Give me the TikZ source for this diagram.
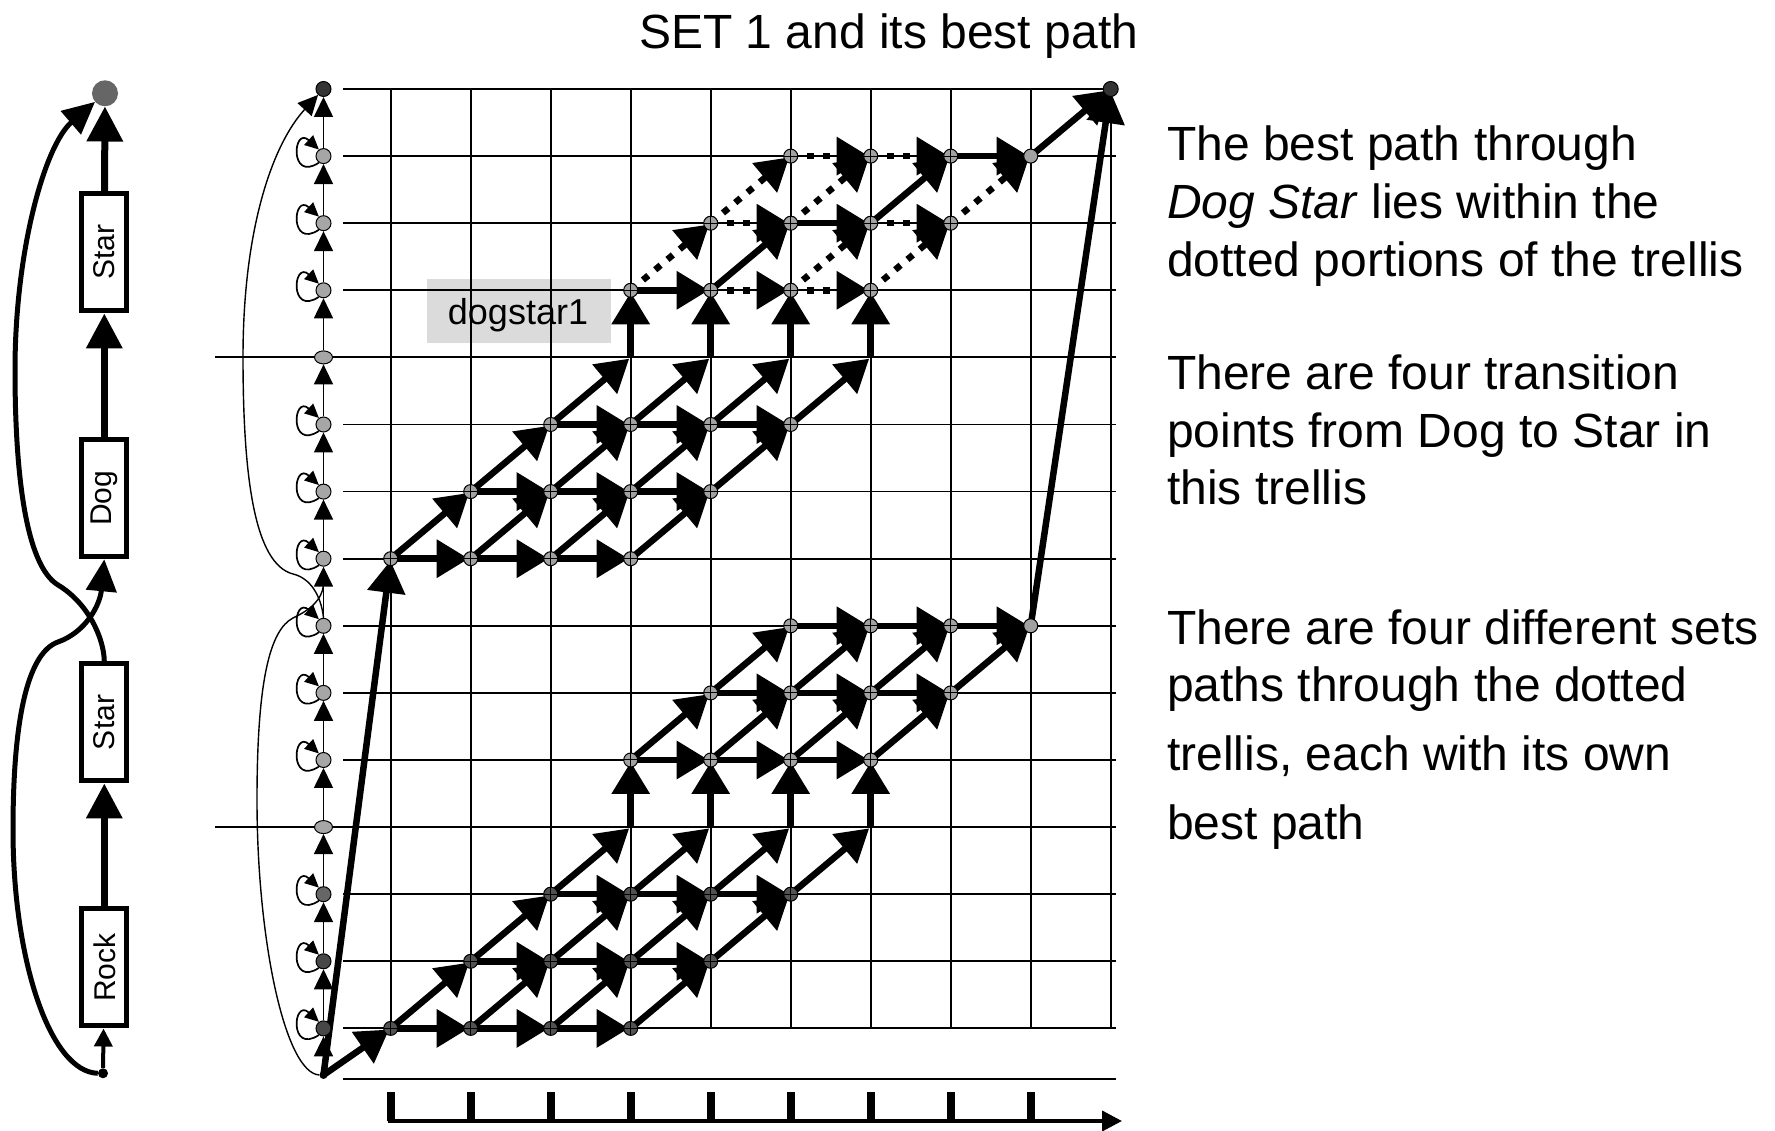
\documentclass[tikz,border=0pt]{standalone}
\usepackage{fontspec}
\usepackage{graphicx}
\setmainfont{Liberation Sans}
\usetikzlibrary{arrows.meta,shapes.geometric,calc}
\pgfdeclarelayer{bg}
\pgfsetlayers{bg,main}
\begin{document}
\begin{tikzpicture}[x=1pt,y=1pt,
  gridln/.style={line width=1.8pt},
  thk/.style={line width=6.5pt,-{Triangle[length=32pt,width=37pt]},shorten >=2pt},
  dotarr/.style={thk,dash pattern=on 7pt off 9pt},
  tnode/.style={circle,draw=black,line width=1pt,inner sep=0pt,minimum size=14pt,fill=black!37,
    path picture={\draw[line width=1pt] (path picture bounding box.north) -- (path picture bounding box.south)
      (path picture bounding box.west) -- (path picture bounding box.east);}},
  tdark/.style={tnode,fill=black!68},
  tplain/.style={circle,draw=black,line width=1pt,inner sep=0pt,minimum size=14pt,fill=black!37},
  cnode/.style={circle,draw=black,line width=1pt,inner sep=0pt,minimum size=15pt,fill=black!35},
  sepnode/.style={ellipse,draw=black,line width=1pt,inner sep=0pt,minimum width=18pt,minimum height=13pt,fill=black!35},
  colarr/.style={line width=1.6pt,-{Triangle[length=20pt,width=19pt]}},
  lp/.style={line width=1.7pt,-{Triangle[length=14pt,width=13pt]}},
  tcurve/.style={line width=1.4pt},
  mbox/.style={draw,line width=5pt,minimum width=45pt,minimum height=117pt,inner sep=0pt,fill=white,
    font=\fontsize{30}{36}\selectfont},
  marr/.style={line width=7pt,-{Triangle[length=35pt,width=35pt]}},
  mcurve/.style={line width=5pt,-{Triangle[length=32pt,width=30pt]}},
  txt/.style={anchor=base west,inner sep=0pt,font=\fontsize{48}{57}\selectfont},
]
\useasboundingbox (0,0) rectangle (1775,1130);

% ---------- grid coordinates ----------
\foreach \c in {0,...,9}{\foreach \k in {0,...,14}{
  \coordinate (g-\c-\k) at ({390.7+80*\c},{1041-67.1*\k});}}
\foreach \c in {3,...,6}{\coordinate (n-\c-11) at (g-\c-11); \coordinate (n-\c-4) at (g-\c-4);}

% ---------- trellis nodes ----------
\foreach \k/\a/\sy in {14/0/tdark,13/1/tdark,12/2/tdark,10/3/tnode,9/4/tnode,8/5/tnode,
                       7/0/tnode,6/1/tnode,5/2/tnode,3/3/tnode,2/4/tnode,1/5/tnode}{
  \foreach \i in {0,...,3}{
    \pgfmathtruncatemacro{\c}{\a+\i}
    \ifnum\c=8 \def\sty{tplain}\else\edef\sty{\sy}\fi
    \node[\sty] (n-\c-\k) at (g-\c-\k) {};
  }}
\node[circle,draw=black,line width=1pt,inner sep=0pt,minimum size=15pt,fill=black!80] (E) at (g-9-0) {};

% ---------- left column nodes ----------
\node[circle,fill=black,inner sep=0pt,minimum size=8pt] (L-s) at (323.5,55) {};
\node[circle,draw=black,line width=1pt,inner sep=0pt,minimum size=15pt,fill=black!80] (L-0) at (323.5,1041) {};
\foreach \k in {1,2,3,5,6,7,8,9,10}{\node[cnode] (L-\k) at (323.5,{1041-67.1*\k}) {};}
\foreach \k in {4,11}{\node[sepnode] (L-\k) at (323.5,{1041-67.1*\k}) {};}
\node[cnode,fill=black!60] (L-12) at (323.5,{1041-67.1*12}) {};
\node[cnode,fill=black!72] (L-13) at (323.5,{1041-67.1*13}) {};
\node[cnode,fill=black!72] (L-14) at (323.5,{1041-67.1*14}) {};

% ---------- left model ----------
\node[circle,fill=black!60,inner sep=0pt,minimum size=26pt] (EndL) at (105,1036.7) {};
\node[mbox] (StarT) at (104.3,877.5) {\rotatebox{90}{Star}};
\node[mbox] (DogB) at (104.3,631.7) {\rotatebox{90}{Dog}};
\node[mbox] (StarL) at (104.3,407.5) {\rotatebox{90}{Star}};
\node[mbox] (RockB) at (104.3,162.5) {\rotatebox{90}{Rock}};
\node[circle,fill=black,inner sep=0pt,minimum size=10pt] (StartL) at (103,56.7) {};

% ---------- texts ----------
\node[anchor=base,inner sep=0pt,font=\fontsize{48}{57}\selectfont] (title) at (888.6,1081.3) {SET 1 and its best path};
\node[txt] (t1) at (1167,969.3) {The best path through};
\node[txt] (t2) at (1167,911.5) {\textit{Dog Star} lies within the};
\node[txt] (t3) at (1167,853.8) {dotted portions of the trellis};
\node[txt] (t4) at (1167,740.6) {There are four transition};
\node[txt] (t5) at (1167,682.9) {points from Dog to Star in};
\node[txt] (t6) at (1167,625.1) {this trellis};
\node[txt] (t7) at (1167,485.9) {There are four different sets};
\node[txt] (t8) at (1167,428.2) {paths through the dotted};
\node[txt] (t9) at (1167,359.1) {trellis, each with its own};
\node[txt] (t10) at (1167,290) {best path};

\begin{pgfonlayer}{bg}
\fill[white] (0,0) rectangle (1775,1130);
% label box under the grid
\node[fill=black!14,minimum width=184pt,minimum height=64pt,inner sep=0pt] (dsbox) at (519,819) {};
\node[anchor=base,inner sep=0pt,font=\fontsize{36}{43}\selectfont] (dslabel) at (518,805) {dogstar1};

% grid
\foreach \k in {0,...,14}{\draw[gridln] (343,{1041-67.1*\k}) -- (1116,{1041-67.1*\k});}
\foreach \k in {4,11}{\draw[gridln] (215,{1041-67.1*\k}) -- (343,{1041-67.1*\k});}
\draw[gridln] (343,51) -- (1116,51);
\foreach \c in {0,...,9}{\draw[gridln] (g-\c-0) -- (g-\c-14);}

% time axis
\draw[line width=4pt,-{Triangle[length=20pt,width=20pt]}] (388,9) -- (1122,9);
\foreach \c in {0,...,8}{\draw[line width=8pt] ({390.7+80*\c},9) -- ({390.7+80*\c},38);}

% left column arrows
\draw[colarr] (L-s) -- (L-14);
\foreach \k in {0,...,13}{\pgfmathtruncatemacro{\m}{\k+1}\draw[colarr] (L-\m) -- (L-\k);}
\foreach \k in {1,2,3,5,6,7,8,9,10,12,13,14}{
  \draw[lp] (L-\k.235) .. controls +(-30,-20) and +(-26,24) .. (L-\k.125);}
\coordinate (L7in) at (323.5,545);
\draw[tcurve] (L-s.west) .. controls (285,57) and (257,190) .. (257,330)
   .. controls (257,450) and (270,500) .. (293,512) .. controls (310,520) and (322,530) .. (L7in);
\draw[tcurve,-{Triangle[length=20pt,width=19pt]}] (L-8.north) .. controls (321,535) and (310,552) .. (293,556)
   .. controls (255,566) and (243,650) .. (243,773) .. controls (243,900) and (272,985) .. (L-0);

% trellis: horizontal solid
\foreach \k/\a in {14/0,13/1,12/2,10/3,9/4,8/5,7/0,6/1,5/2}{
  \foreach \i in {0,1,2}{
    \pgfmathtruncatemacro{\c}{\a+\i}\pgfmathtruncatemacro{\d}{\a+\i+1}
    \draw[thk] (n-\c-\k.center) -- (n-\d-\k.center);}}
% diagonals solid
\foreach \k/\a in {14/0,13/1,12/2,10/3,9/4,7/0,6/1,5/2}{
  \foreach \i in {0,...,3}{
    \pgfmathtruncatemacro{\c}{\a+\i}\pgfmathtruncatemacro{\d}{\a+\i+1}\pgfmathtruncatemacro{\m}{\k-1}
    \draw[thk] (n-\c-\k.center) -- (n-\d-\m.center);}}
% verticals (word transitions)
\foreach \c in {3,...,6}{
  \draw[thk] (n-\c-11.center) -- (n-\c-10.center);
  \draw[thk] (n-\c-4.center) -- (n-\c-3.center);}
% dotted portion
\draw[dotarr] (n-4-3.center) -- (n-5-3.center);
\draw[dotarr] (n-5-3.center) -- (n-6-3.center);
\draw[dotarr] (n-4-2.center) -- (n-5-2.center);
\draw[dotarr] (n-6-2.center) -- (n-7-2.center);
\draw[dotarr] (n-5-1.center) -- (n-6-1.center);
\draw[dotarr] (n-6-1.center) -- (n-7-1.center);
\draw[dotarr] (n-3-3.center) -- (n-4-2.center);
\draw[dotarr] (n-5-3.center) -- (n-6-2.center);
\draw[dotarr] (n-6-3.center) -- (n-7-2.center);
\draw[dotarr] (n-4-2.center) -- (n-5-1.center);
\draw[dotarr] (n-5-2.center) -- (n-6-1.center);
\draw[dotarr] (n-7-2.center) -- (n-8-1.center);
% best path
\draw[thk] (n-3-3.center) -- (n-4-3.center);
\draw[thk] (n-4-3.center) -- (n-5-2.center);
\draw[thk] (n-5-2.center) -- (n-6-2.center);
\draw[thk] (n-6-2.center) -- (n-7-1.center);
\draw[thk] (n-7-1.center) -- (n-8-1.center);
% long arrows
\draw[thk] (L-s.center) -- (n-0-14.center);
\draw[thk] (L-s.center) -- (n-0-7.center);
\draw[thk] (n-8-8.center) -- (E.center);
\draw[thk] (n-8-1.center) -- (E.center);

% left model connectors
\draw[marr] (StarT) -- (EndL);
\draw[marr] (DogB) -- (StarT);
\draw[marr] (RockB) -- (StarL);
\draw[line width=4pt,-{Triangle[length=18pt,width=18pt]}] (StartL) -- (RockB);
\draw[mcurve] (StartL.west) .. controls (50,58) and (13,170) .. (13,300)
   .. controls (13,420) and (30,478) .. (58,488) .. controls (86,498) and (100,525) .. (DogB.south);
\draw[mcurve] (StarL.north) .. controls (104,492) and (88,527) .. (58,545)
   .. controls (25,565) and (15,660) .. (15,760) .. controls (15,880) and (45,985) .. (EndL);
\end{pgfonlayer}
\end{tikzpicture}
\end{document}
